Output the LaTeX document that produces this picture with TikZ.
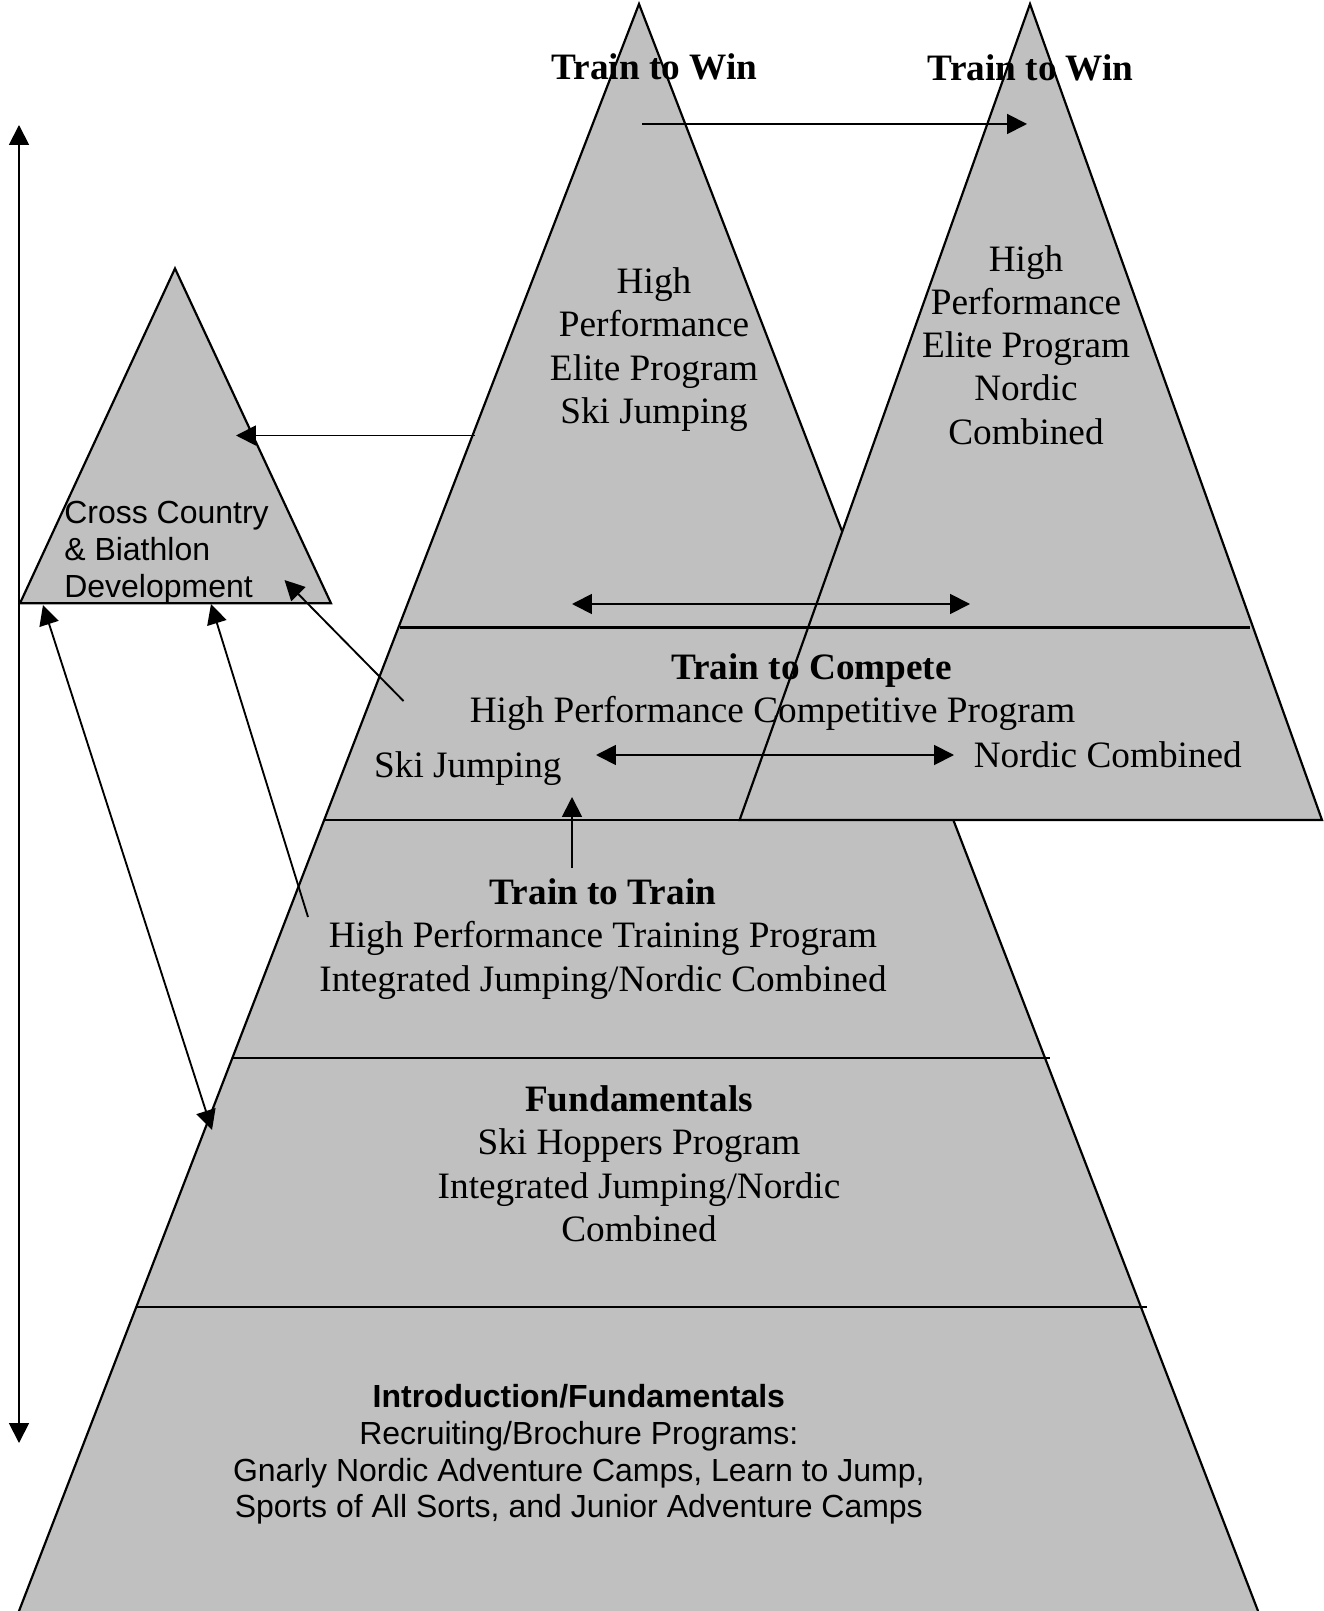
\documentclass[tikz,border=0pt]{standalone}
\usepackage{fontspec}
\setmainfont{Liberation Serif}
\newfontfamily\arialfont{Liberation Sans}
\usetikzlibrary{arrows.meta}
\definecolor{silver}{RGB}{192,192,192}

\begin{document}
\begin{tikzpicture}[x=0.322pt, y=-0.322pt,
    pyr/.style={fill=silver, draw=black, line width=0.7pt},
    link/.style={line width=0.6pt, -{Triangle[length=6.4pt,width=6.4pt]}},
    twolink/.style={line width=0.6pt, {Triangle[length=6.4pt,width=6.4pt]}-{Triangle[length=6.4pt,width=6.4pt]}},
    serif/.style={font=\fontsize{12}{13.9}\selectfont, inner sep=0pt, align=center},
    sans/.style={font=\arialfont\fontsize{10.3}{11.85}\selectfont, inner sep=0pt}]
    \useasboundingbox (0,0) rectangle (1323,1611);

    % Main pyramid
    \draw[pyr] (639,4) -- (13.6,1625) -- (1263.4,1625) -- cycle;

    % Second pyramid (Nordic Combined)
    \draw[pyr] (1030,4) -- (739.6,820) -- (1322,820) -- cycle;

    % Small pyramid (Cross Country)
    \draw[pyr] (175,268.5) -- (20,603.3) -- (331,603.3) -- cycle;

    % Level lines
    \foreach \y/\a/\b in {627.5/400/1250, 819.7/324/740, 1058/232/1050, 1306.6/137/1147} {
        \draw[line width=0.7pt] (\a,\y) -- (\b,\y);
    }

    % Arrow end points
    \coordinate (vtop) at (19,125);
    \coordinate (vbot) at (19,1443);
    \coordinate (winA) at (642,124);
    \coordinate (winB) at (1027,124);
    \coordinate (eliteL) at (475,435.5);
    \coordinate (ccR) at (236,435.5);
    \coordinate (hpL) at (572,604);
    \coordinate (hpR) at (970,604);
    \coordinate (sjR) at (596,755);
    \coordinate (ncL) at (954,755);
    \coordinate (tttUp) at (572,868);
    \coordinate (tcLow) at (572,797);
    \coordinate (tcEdge) at (403.5,701);
    \coordinate (ccDev) at (284.5,580);
    \coordinate (tttEdge) at (308,917);
    \coordinate (ccBase) at (211,604);
    \coordinate (ccCorner) at (43,605);
    \coordinate (fundEdge) at (212,1130);

    % Arrows
    \draw[twolink] (vtop) -- (vbot);
    \draw[link] (winA) -- (winB);
    \draw[link] (eliteL) -- (ccR);
    \draw[twolink] (hpL) -- (hpR);
    \draw[twolink] (sjR) -- (ncL);
    \draw[link] (tttUp) -- (tcLow);
    \draw[link] (tcEdge) -- (ccDev);
    \draw[link] (tttEdge) -- (ccBase);
    \draw[twolink] (ccCorner) -- (fundEdge);

    % Train to Win
    \node[serif] (winSJ) at (654.3,67) {\textbf{Train to Win}};
    \node[serif] (winNC) at (1030.8,68) {\textbf{Train to Win}};
    \node[serif] (eliteSJ) at (654,349.6) {High\\Performance\\Elite Program\\Ski Jumping};
    \node[serif] (eliteNC) at (1026,345) {High\\Performance\\Elite Program\\Nordic\\Combined};

    % Cross Country
    \node[sans, align=left, anchor=west] (cc) at (63.7,552.5) {Cross Country\\\& Biathlon\\Development};

    % Train to Compete
    \node[serif] (compete) at (811.5,670.6) {\textbf{Train to Compete}};
    \node[serif] (competeProg) at (772.5,713.8) {High Performance Competitive Program};
    \node[serif] (competeSJ) at (467.9,768.2) {Ski Jumping};
    \node[serif] (competeNC) at (1107.8,755) {Nordic Combined};

    % Train to Train
    \node[serif] (train) at (603,939) {\textbf{Train to Train}\\High Performance Training Program\\Integrated Jumping/Nordic Combined};

    % Fundamentals
    \node[serif] (fund) at (639,1163.7) {\textbf{Fundamentals}\\Ski Hoppers Program\\Integrated Jumping/Nordic\\Combined};

    % Introduction
    \node[sans, align=center] (intro) at (578.8,1454.5) {\textbf{Introduction/Fundamentals}\\Recruiting/Brochure Programs:\\Gnarly Nordic Adventure Camps, Learn to Jump,\\Sports of All Sorts, and Junior Adventure Camps};
\end{tikzpicture}
\end{document}
